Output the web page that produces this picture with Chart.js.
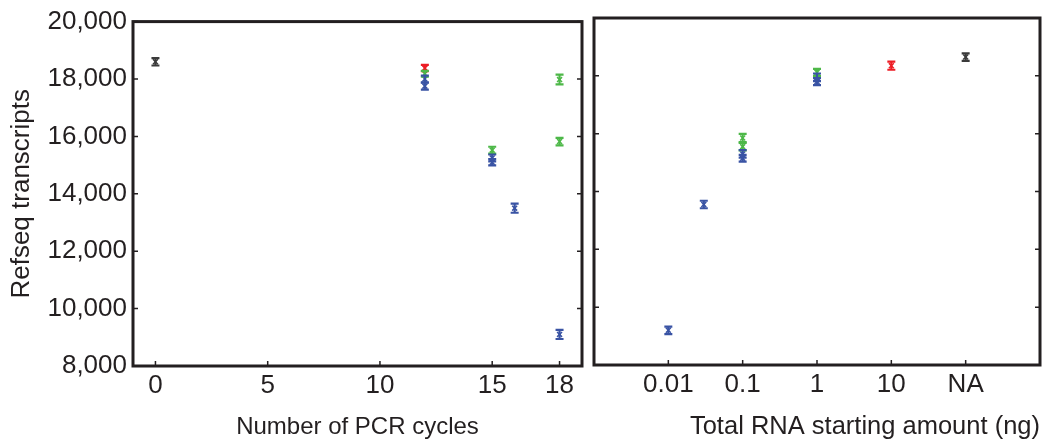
<!DOCTYPE html>
<html>
<head>
<meta charset="utf-8">
<script src="https://cdn.jsdelivr.net/npm/chart.js@4"></script>
<style>
  body { margin: 0; background: #fff; }
  #wrap { position: relative; width: 1059px; height: 447px; }
  canvas { position: absolute; top: 0; }
</style>
</head>
<body>
<div id="wrap">
  <canvas id="pcrChart" width="590" height="447" style="left:0px;width:590px;height:447px"></canvas>
  <canvas id="rnaChart" width="471" height="447" style="left:588px;width:471px;height:447px"></canvas>
</div>
<script>
// y axis
const yTicks = [8000, 10000, 12000, 14000, 16000, 18000, 20000];

// left panel: number of PCR cycles
const pcrTicks = [0, 5, 10, 15, 18];
const pcrBlackX = [0];
const pcrBlackY = [18600];
const pcrBlackErr = [130];
const pcrRedX = [12];
const pcrRedY = [18380];
const pcrRedErr = [110];
const pcrGreenX = [12, 15, 18, 18];
const pcrGreenY = [18180, 15520, 17980, 15820];
const pcrGreenErr = [100, 120, 170, 130];
const pcrBlueX = [12, 12, 15, 15, 16, 18];
const pcrBlueY = [18000, 17750, 15250, 15100, 13500, 9100];
const pcrBlueErr = [120, 120, 120, 110, 160, 160];

// right panel: total RNA starting amount (ng), NA sits at the 100 position
const rnaTickValues = [0.01, 0.1, 1, 10, 100];
const rnaTickLabels = ['0.01', '0.1', '1', '10', 'NA'];
const rnaBlackX = [100];
const rnaBlackY = [18650];
const rnaBlackErr = [130];
const rnaRedX = [10];
const rnaRedY = [18350];
const rnaRedErr = [140];
const rnaGreenX = [0.1, 0.1, 1];
const rnaGreenY = [15850, 15550, 18120];
const rnaGreenErr = [140, 130, 120];
const rnaBlueX = [0.01, 0.03, 0.1, 0.1, 1, 1];
const rnaBlueY = [9200, 13550, 15300, 15150, 17950, 17800];
const rnaBlueErr = [130, 130, 130, 120, 130, 120];

const colors = {
    black: '#3a3a3a',
    red: '#ed1c24',
    green: '#4db848',
    blue: '#3953a4'
};
const ink = '#231f20';
const fontFamily = "'Liberation Sans', Arial, sans-serif";

function series(xs, ys, errs, color) {
    return {
        data: xs.map((x, i) => ({x: x, y: ys[i]})),
        errors: errs,
        borderColor: color,
        backgroundColor: color,
        pointStyle: 'crossRot',
        pointRadius: 3.5,
        borderWidth: 1.5,
        showLine: false
    };
}

// error bars, frame and inward tick marks
const decorPlugin = {
    id: 'decor',
    afterDatasetsDraw(chart) {
        const ctx = chart.ctx;
        const yScale = chart.scales.y;
        ctx.save();
        chart.data.datasets.forEach((ds, i) => {
            const meta = chart.getDatasetMeta(i);
            ctx.strokeStyle = ds.borderColor;
            ctx.lineWidth = 2.2;
            meta.data.forEach((el, j) => {
                const v = ds.data[j].y;
                const e = ds.errors[j];
                const top = yScale.getPixelForValue(v + e);
                const bot = yScale.getPixelForValue(v - e);
                ctx.beginPath();
                ctx.moveTo(el.x, top);
                ctx.lineTo(el.x, bot);
                ctx.moveTo(el.x - 4, top);
                ctx.lineTo(el.x + 4, top);
                ctx.moveTo(el.x - 4, bot);
                ctx.lineTo(el.x + 4, bot);
                ctx.stroke();
            });
        });

        const a = chart.chartArea;
        ctx.strokeStyle = ink;
        ctx.lineWidth = 1.5;
        ctx.beginPath();
        chart.scales.x.ticks.forEach(t => {
            const x = chart.scales.x.getPixelForValue(t.value);
            ctx.moveTo(x, a.bottom);
            ctx.lineTo(x, a.bottom - 5);
        });
        yScale.ticks.forEach(t => {
            const y = yScale.getPixelForValue(t.value);
            ctx.moveTo(a.left, y);
            ctx.lineTo(a.left + 5, y);
            ctx.moveTo(a.right, y);
            ctx.lineTo(a.right - 5, y);
        });
        ctx.stroke();

        ctx.lineWidth = 3;
        ctx.strokeRect(a.left, a.top, a.right - a.left, a.bottom - a.top);
        ctx.restore();
    }
};

Chart.defaults.font.family = fontFamily;
Chart.defaults.color = ink;

function yAxis(showLabels) {
    return {
        min: 8000,
        max: 20000,
        afterBuildTicks: scale => { scale.ticks = yTicks.map(v => ({value: v})); },
        afterFit: scale => { scale.width = showLabels ? 133 : 0; },
        grid: {display: false, drawTicks: false},
        border: {display: false},
        ticks: {
            display: showLabels,
            padding: 6,
            font: {size: 26},
            callback: v => v.toLocaleString('en-US')
        },
        title: {
            display: showLabels,
            text: 'Refseq transcripts',
            font: {size: 26},
            padding: {top: 6, bottom: 0}
        }
    };
}

const pcrConfig = {
    type: 'scatter',
    data: {
        datasets: [
            series(pcrBlackX, pcrBlackY, pcrBlackErr, colors.black),
            series(pcrRedX, pcrRedY, pcrRedErr, colors.red),
            series(pcrGreenX, pcrGreenY, pcrGreenErr, colors.green),
            series(pcrBlueX, pcrBlueY, pcrBlueErr, colors.blue)
        ]
    },
    options: {
        responsive: false,
        animation: false,
        layout: {padding: {top: 18, right: 8, left: 0, bottom: 0}},
        plugins: {legend: {display: false}, tooltip: {enabled: false}},
        scales: {
            x: {
                type: 'linear',
                min: -1,
                max: 19,
                afterBuildTicks: scale => { scale.ticks = pcrTicks.map(v => ({value: v})); },
                afterFit: scale => { scale.height = 81; },
                grid: {display: false, drawTicks: false},
                border: {display: false},
                ticks: {padding: 4, font: {size: 26}, autoSkip: false, maxRotation: 0},
                title: {
                    display: true,
                    text: 'Number of PCR cycles',
                    font: {size: 24},
                    padding: {top: 0, bottom: 5}
                }
            },
            y: yAxis(true)
        }
    },
    plugins: [decorPlugin]
};

const rnaConfig = {
    type: 'scatter',
    data: {
        datasets: [
            series(rnaBlackX, rnaBlackY, rnaBlackErr, colors.black),
            series(rnaRedX, rnaRedY, rnaRedErr, colors.red),
            series(rnaGreenX, rnaGreenY, rnaGreenErr, colors.green),
            series(rnaBlueX, rnaBlueY, rnaBlueErr, colors.blue)
        ]
    },
    options: {
        responsive: false,
        animation: false,
        layout: {padding: {top: 18, right: 19, left: 6, bottom: 0}},
        plugins: {legend: {display: false}, tooltip: {enabled: false}},
        scales: {
            x: {
                type: 'logarithmic',
                min: 0.001,
                max: 1000,
                afterBuildTicks: scale => { scale.ticks = rnaTickValues.map(v => ({value: v})); },
                afterFit: scale => { scale.height = 82; },
                grid: {display: false, drawTicks: false},
                border: {display: false},
                ticks: {
                    padding: 4,
                    font: {size: 26},
                    autoSkip: false,
                    maxRotation: 0,
                    callback: (v, i) => rnaTickLabels[i]
                },
                title: {
                    display: true,
                    text: 'Total RNA starting amount (ng)',
                    align: 'end',
                    font: {size: 25.5},
                    padding: {top: 0, bottom: 5}
                }
            },
            y: yAxis(false)
        }
    },
    plugins: [decorPlugin]
};

new Chart(document.getElementById('pcrChart'), pcrConfig);
new Chart(document.getElementById('rnaChart'), rnaConfig);
</script>
</body>
</html>
